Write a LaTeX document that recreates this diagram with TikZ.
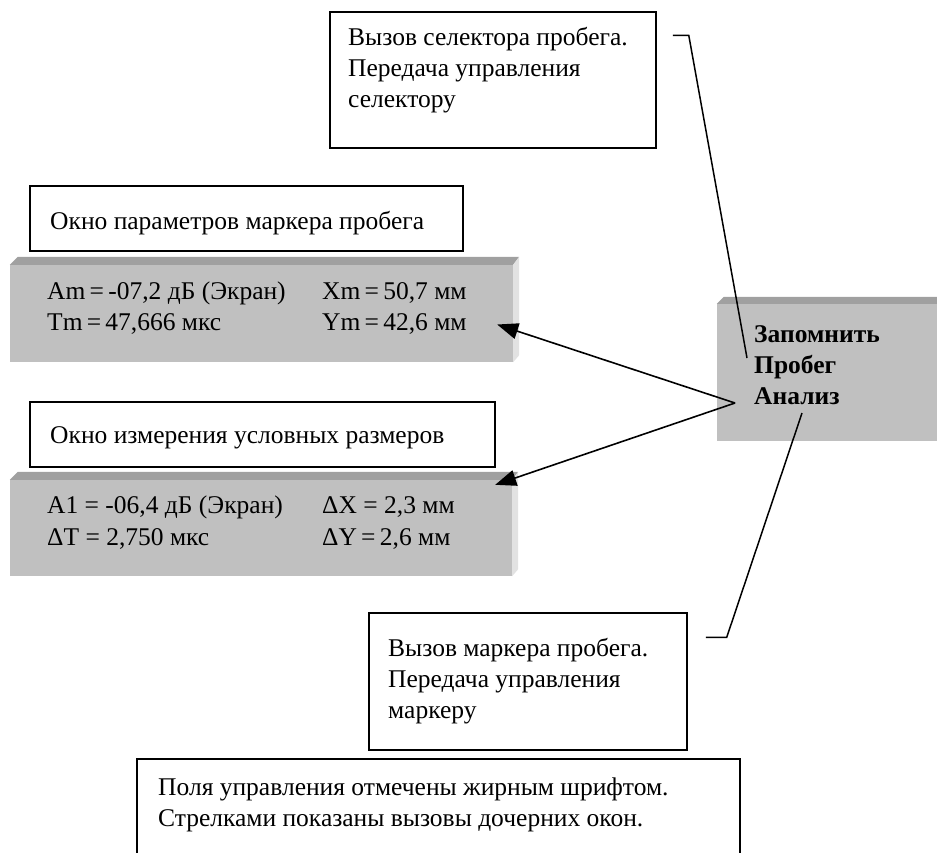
\documentclass[tikz,border=0pt]{standalone}
\usepackage{fontspec}
\setmainfont{Liberation Serif}
\usetikzlibrary{arrows.meta, positioning, calc}
\definecolor{PanelFace}{RGB}{192,192,192}
\definecolor{PanelTop}{RGB}{160,160,160}
\definecolor{PanelSide}{RGB}{226,226,226}

\begin{document}
\begin{tikzpicture}[x=1pt, y=-1pt, font=\fontsize{25.5}{31}\selectfont,
	okno/.style={rectangle, draw, line width=1.5pt, inner sep=0pt},
	panel/.style={rectangle, fill=PanelFace, inner sep=0pt},
	txt/.style={anchor=base west, inner sep=0pt},
	vyzov/.style={-{Triangle[length=21pt, width=16pt]}, line width=1.6pt},
	vynoska/.style={line width=1.5pt}]
	\clip (0,0) rectangle (937,852);
	% callout boxes
	\node[okno, minimum width=326pt, minimum height=136pt] (selektor) at (493,80) {};
	\node[okno, minimum width=433pt, minimum height=65pt] (oknoparam) at (246.5,218.5) {};
	\node[okno, minimum width=465pt, minimum height=65pt] (oknorazm) at (262.5,434.5) {};
	\node[okno, minimum width=318pt, minimum height=137pt] (marker) at (528,681.5) {};
	\node[okno, minimum width=603pt, minimum height=141pt] (primech) at (438.5,829.5) {};
	% grey windows
	\node[panel, minimum width=503pt, minimum height=97pt] (mark) at (261.5,313.5) {};
	\node[panel, minimum width=502pt, minimum height=96pt] (razm) at (261,528) {};
	\node[panel, minimum width=228pt, minimum height=137pt] (menu) at (831,372.5) {};
	\foreach \p/\d in {mark/8, razm/8, menu/7} {
		\fill[PanelTop] (\p.north west) -- ++(\d,-\d) -- ($(\p.north east)+(6,-\d)$) -- (\p.north east) -- cycle;
		\fill[PanelSide] (\p.north east) -- ++(6,-\d) -- ($(\p.south east)+(6,-7)$) -- (\p.south east) -- cycle;
	}
	% texts
	\foreach \t [count=\i] in {Вызов селектора пробега., Передача управления, селектору}
		\node[txt] (sel\i) at (348,14+31*\i) {\t};
	\node[txt] (param) at (50,229) {Окно параметров маркера пробега};
	\node[txt] (am) at (47,299) {Am\,=\,-07,2 дБ (Экран)};
	\node[txt] (xm) at (322,299) {Xm\,=\,50,7 мм};
	\node[txt] (tm) at (47,330) {Tm\,=\,47,666 мкс};
	\node[txt] (ym) at (322,330) {Ym\,=\,42,6 мм};
	\node[txt] (razmer) at (50,443) {Окно измерения условных размеров};
	\node[txt] (a1) at (47,513) {A1 = -06,4 дБ (Экран)};
	\node[txt] (dx) at (322,513) {ΔX = 2,3 мм};
	\node[txt] (dt) at (47,545) {ΔT = 2,750 мкс};
	\node[txt] (dy) at (322,545) {ΔY\,=\,2,6 мм};
	\foreach \t [count=\i] in {Запомнить, Пробег, Анализ}
		\node[txt, font=\fontsize{25.5}{31}\selectfont\bfseries] (zap\i) at (754,311+31*\i) {\t};
	\foreach \t [count=\i] in {Вызов маркера пробега., Передача управления, маркеру}
		\node[txt] (mrk\i) at (388,625+31*\i) {\t};
	\foreach \t [count=\i] in {Поля управления отмечены жирным шрифтом., Стрелками показаны вызовы дочерних окон.}
		\node[txt] (prim\i) at (158,764+31*\i) {\t};
	% arrows and callouts
	\coordinate (hub) at (735,403);
	\coordinate (t1) at ($(mark.east)+(-16,11)$);
	\coordinate (t2) at ($(razm.north east)+(-17,5)$);
	\draw[vyzov] (hub) -- (t1);
	\draw[vyzov] (hub) -- (t2);
	\coordinate (c1) at (747,358);
	\coordinate (c2) at (802,413);
	\draw[vynoska] ($(selektor.north east)+(16,24)$) -- ++(16,0) -- (c1);
	\draw[vynoska] ($(marker.north east)+(18,25)$) -- ++(21,0) -- (c2);
\end{tikzpicture}
\end{document}
